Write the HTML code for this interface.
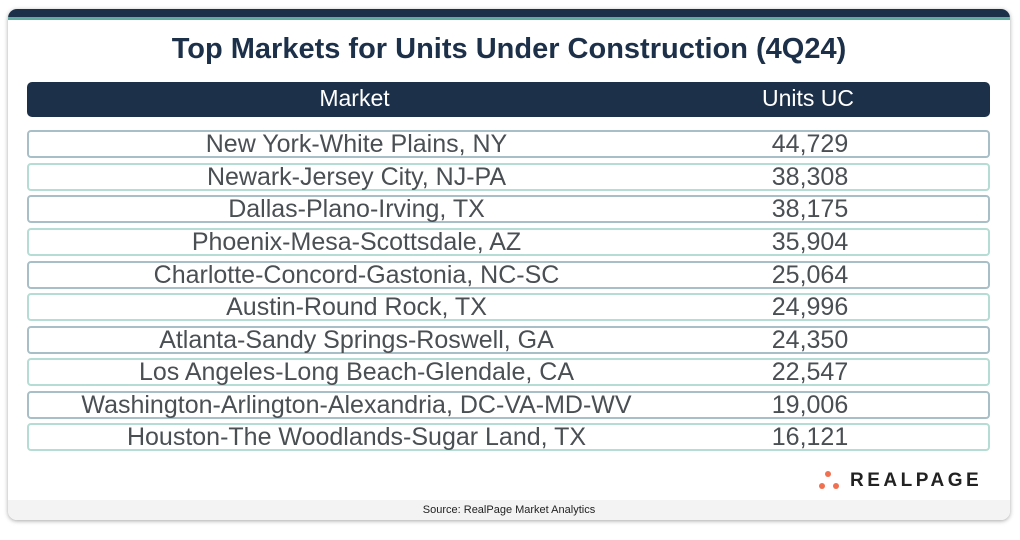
<!DOCTYPE html>
<html><head><meta charset="utf-8"><style>
body{margin:0;width:1020px;height:540px;background:#fff;font-family:"Liberation Sans",sans-serif;position:relative;overflow:hidden}
.card{position:absolute;left:8px;top:9px;width:1002px;height:511px;background:#fff;border-radius:9px;box-shadow:0 1px 4px rgba(0,0,0,.35);overflow:hidden}
.top{position:absolute;left:0;top:0;width:100%;height:8px;background:#1d3049}
.teal{position:absolute;left:0;top:8px;width:100%;height:3px;background:#5fada0}
.title{position:absolute;left:0;top:24px;width:100%;text-align:center;font-size:29px;font-weight:bold;color:#1d3049}
.hdr{position:absolute;left:19px;top:73px;width:963px;height:35px;background:#1d3049;border-radius:5px;color:#fff;font-size:23px}
.row{position:absolute;left:19px;width:959px;height:24px;border:2px solid #a9bfc7;border-radius:4px;color:#4a4f53;font-size:25px}
.row.b{border-color:#b6ddd3}
.c1{position:absolute;left:0;width:655px;text-align:center;line-height:24px;white-space:nowrap}
.c2{position:absolute;left:631px;width:300px;text-align:center;line-height:24px}
.hdr .c1,.hdr .c2{line-height:33px}
.foot{position:absolute;left:0;top:491px;width:100%;height:20px;background:#f3f3f3;text-align:center;font-size:11px;line-height:20px;color:#222}
.logo{position:absolute;left:842px;top:461px;font-size:19px;letter-spacing:3.5px;color:#222;font-weight:bold}
.dot{position:absolute;width:6px;height:6px;border-radius:50%;background:#f07050}
</style></head><body>
<div class="card">
<div class="top"></div><div class="teal"></div>
<div class="title">Top Markets for Units Under Construction (4Q24)</div>
<div class="hdr"><div class="c1">Market</div><div class="c2">Units UC</div></div>
<div class="row" style="top:121px"><div class="c1">New York-White Plains, NY</div><div class="c2">44,729</div></div>
<div class="row b" style="top:154px"><div class="c1">Newark-Jersey City, NJ-PA</div><div class="c2">38,308</div></div>
<div class="row" style="top:186px"><div class="c1">Dallas-Plano-Irving, TX</div><div class="c2">38,175</div></div>
<div class="row b" style="top:219px"><div class="c1">Phoenix-Mesa-Scottsdale, AZ</div><div class="c2">35,904</div></div>
<div class="row" style="top:252px"><div class="c1">Charlotte-Concord-Gastonia, NC-SC</div><div class="c2">25,064</div></div>
<div class="row b" style="top:284px"><div class="c1">Austin-Round Rock, TX</div><div class="c2">24,996</div></div>
<div class="row" style="top:317px"><div class="c1">Atlanta-Sandy Springs-Roswell, GA</div><div class="c2">24,350</div></div>
<div class="row b" style="top:349px"><div class="c1">Los Angeles-Long Beach-Glendale, CA</div><div class="c2">22,547</div></div>
<div class="row" style="top:382px"><div class="c1">Washington-Arlington-Alexandria, DC-VA-MD-WV</div><div class="c2">19,006</div></div>
<div class="row b" style="top:414px"><div class="c1">Houston-The Woodlands-Sugar Land, TX</div><div class="c2">16,121</div></div>
<div class="dot" style="left:817px;top:462px"></div>
<div class="dot" style="left:811px;top:474px"></div>
<div class="dot" style="left:825px;top:474px"></div>
<div class="logo">REALPAGE</div>
<div class="foot">Source: RealPage Market Analytics</div>
</div>
</body></html>
